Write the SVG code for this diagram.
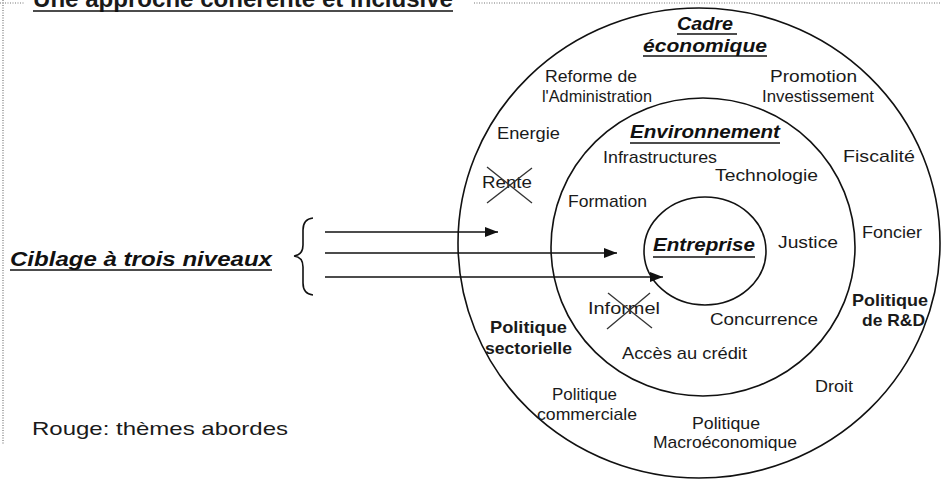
<svg xmlns="http://www.w3.org/2000/svg" width="941" height="480" viewBox="0 0 941 480">
<style>
.t{font-family:"Liberation Sans",Arial,sans-serif;font-size:17px;fill:#1a1a1a}
.b{font-weight:bold}
.h{font-family:"Liberation Sans",Arial,sans-serif;font-size:18px;font-weight:bold;font-style:italic;fill:#111}
.ring{fill:none;stroke:#111;stroke-width:1.6}
.ul{stroke:#111;stroke-width:1.5}
.x{stroke:#333;stroke-width:1.3}
.dot{stroke:#777;stroke-width:1.2;stroke-dasharray:1 1.5}
.arr{stroke:#111;stroke-width:1.6;fill:none}
</style>
<defs>
<marker id="ah" viewBox="0 0 13 10" refX="13" refY="5" markerWidth="13" markerHeight="10" markerUnits="userSpaceOnUse" orient="auto">
<path d="M0,0 L13,5 L0,10 Z" fill="#111"/>
</marker>
</defs>
<rect width="941" height="480" fill="#fff"/>
<g id="frame">
<line class="dot" x1="0" y1="3" x2="24" y2="3"/>
<line class="dot" x1="474" y1="3" x2="941" y2="3"/>
<line class="dot" x1="3" y1="0" x2="3" y2="445"/>
</g>
<g id="title">
<text class="t b" x="33" y="7" style="font-size:24px" textLength="420" lengthAdjust="spacingAndGlyphs">Une approche cohérente et inclusive</text>
<line class="ul" x1="33" y1="11" x2="453" y2="11"/>
</g>
<g id="cadre-economique">
<ellipse class="ring" cx="699" cy="243" rx="241" ry="235"/>
<text class="h" x="677" y="30" textLength="56" lengthAdjust="spacingAndGlyphs">Cadre</text>
<line class="ul" x1="677" y1="34" x2="737" y2="34"/>
<text class="h" x="643" y="52" textLength="124" lengthAdjust="spacingAndGlyphs">économique</text>
<line class="ul" x1="643" y1="56" x2="767" y2="56"/>
</g>
<g id="environnement">
<ellipse class="ring" cx="703" cy="247" rx="152" ry="149"/>
<text class="h" x="630" y="138" textLength="150" lengthAdjust="spacingAndGlyphs">Environnement</text>
<line class="ul" x1="630" y1="143" x2="780" y2="143"/>
</g>
<g id="entreprise">
<ellipse class="ring" cx="705" cy="251" rx="61" ry="54"/>
<text class="h" x="653" y="251" textLength="102" lengthAdjust="spacingAndGlyphs">Entreprise</text>
<line class="ul" x1="653" y1="257" x2="755" y2="257"/>
</g>
<g id="reforme"><text class="t" x="545" y="82" textLength="92" lengthAdjust="spacingAndGlyphs">Reforme de</text><text class="t" x="542" y="102" textLength="110" lengthAdjust="spacingAndGlyphs">l'Administration</text></g>
<g id="promotion"><text class="t" x="770" y="82" textLength="87" lengthAdjust="spacingAndGlyphs">Promotion</text><text class="t" x="762" y="102" textLength="112" lengthAdjust="spacingAndGlyphs">Investissement</text></g>
<g id="energie"><text class="t" x="497" y="139" textLength="63" lengthAdjust="spacingAndGlyphs">Energie</text></g>
<g id="infrastructures"><text class="t" x="603" y="163" textLength="114" lengthAdjust="spacingAndGlyphs">Infrastructures</text></g>
<g id="fiscalite"><text class="t" x="843" y="162" textLength="72" lengthAdjust="spacingAndGlyphs">Fiscalité</text></g>
<g id="technologie"><text class="t" x="715" y="181" textLength="103" lengthAdjust="spacingAndGlyphs">Technologie</text></g>
<g id="rente"><text class="t" x="482" y="188" textLength="50" lengthAdjust="spacingAndGlyphs">Rente</text>
<line class="x" x1="487" y1="167" x2="532" y2="203"/><line class="x" x1="532" y1="168" x2="487" y2="203"/></g>
<g id="formation"><text class="t" x="568" y="207" textLength="79" lengthAdjust="spacingAndGlyphs">Formation</text></g>
<g id="justice"><text class="t" x="778" y="248" textLength="60" lengthAdjust="spacingAndGlyphs">Justice</text></g>
<g id="foncier"><text class="t" x="862" y="238" textLength="60" lengthAdjust="spacingAndGlyphs">Foncier</text></g>
<g id="informel"><text class="t" x="588" y="314" textLength="72" lengthAdjust="spacingAndGlyphs">Informel</text>
<line class="x" x1="608" y1="293" x2="652" y2="328"/><line class="x" x1="650" y1="293" x2="607" y2="329"/></g>
<g id="concurrence"><text class="t" x="710" y="325" textLength="108" lengthAdjust="spacingAndGlyphs">Concurrence</text></g>
<g id="politique-rd"><text class="t b" x="852" y="306" textLength="76" lengthAdjust="spacingAndGlyphs">Politique</text><text class="t b" x="862" y="326" textLength="63" lengthAdjust="spacingAndGlyphs">de R&amp;D</text></g>
<g id="politique-sectorielle"><text class="t b" x="490" y="333" textLength="77" lengthAdjust="spacingAndGlyphs">Politique</text><text class="t b" x="485" y="354" textLength="87" lengthAdjust="spacingAndGlyphs">sectorielle</text></g>
<g id="acces-credit"><text class="t" x="622" y="359" textLength="125" lengthAdjust="spacingAndGlyphs">Accès au crédit</text></g>
<g id="politique-commerciale"><text class="t" x="552" y="400" textLength="65" lengthAdjust="spacingAndGlyphs">Politique</text><text class="t" x="537" y="420" textLength="100" lengthAdjust="spacingAndGlyphs">commerciale</text></g>
<g id="droit"><text class="t" x="815" y="392" textLength="38" lengthAdjust="spacingAndGlyphs">Droit</text></g>
<g id="politique-macro"><text class="t" x="692" y="429" textLength="68" lengthAdjust="spacingAndGlyphs">Politique</text><text class="t" x="653" y="448" textLength="144" lengthAdjust="spacingAndGlyphs">Macroéconomique</text></g>
<g id="ciblage">
<text class="h" x="10" y="266" style="font-size:20px" textLength="262" lengthAdjust="spacingAndGlyphs">Ciblage à trois niveaux</text>
<line class="ul" x1="10" y1="270" x2="272" y2="270"/>
<path class="arr" d="M313,218 Q303,219 303,230 L303,245 Q303,255 294,256 Q303,257 303,267 L303,283 Q303,294 313,295"/>
</g>
<g id="legend"><text class="t" x="32" y="435" style="font-size:19px" textLength="256" lengthAdjust="spacingAndGlyphs">Rouge: thèmes abordes</text></g>
<g id="connectors">
<line class="arr" x1="325" y1="232" x2="498" y2="232" marker-end="url(#ah)"/>
<line class="arr" x1="325" y1="253" x2="617" y2="253" marker-end="url(#ah)"/>
<line class="arr" x1="325" y1="277" x2="663" y2="277" marker-end="url(#ah)"/>
</g>
</svg>
